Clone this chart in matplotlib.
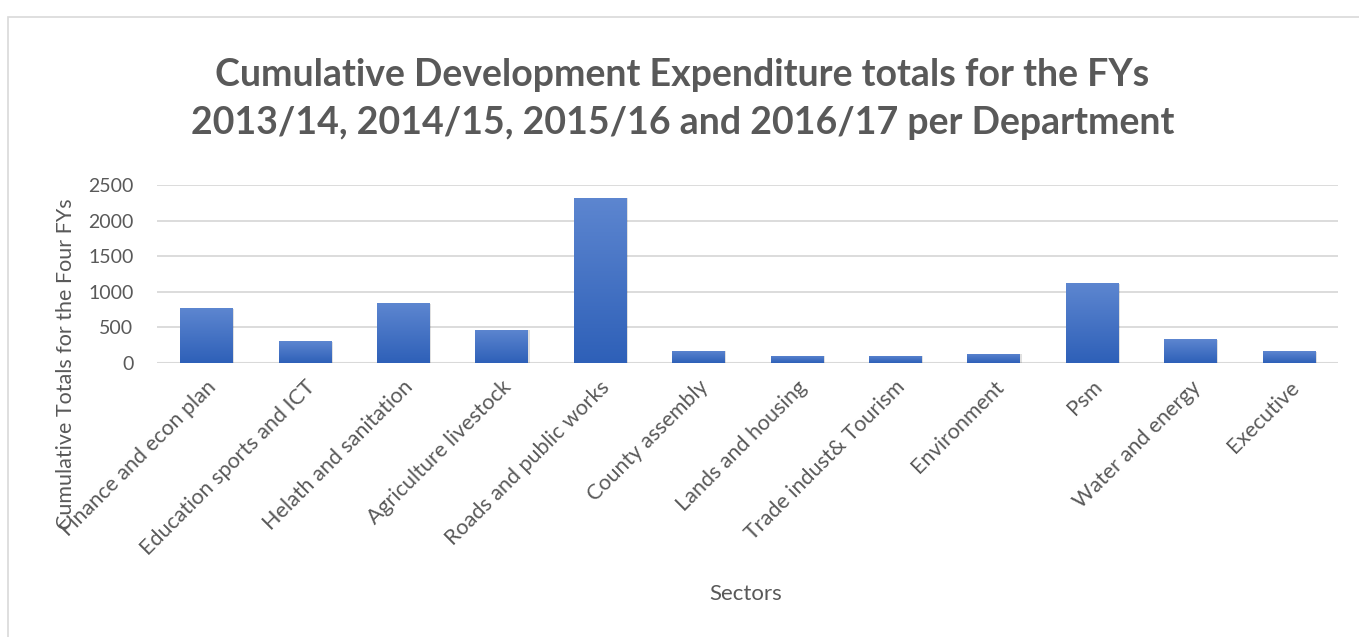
import numpy as np
import matplotlib
matplotlib.use("Agg")
import matplotlib.pyplot as plt
from matplotlib.patches import Rectangle

sectors = ["Finance and econ plan", "Education sports and ICT", "Helath and sanitation",
           "Agriculture livestock", "Roads and public works", "County assembly",
           "Lands and housing", "Trade indust& Tourism", "Environment", "Psm",
           "Water and energy", "Executive"]
totals = [770, 305, 836, 470, 2320, 175, 105, 105, 133, 1118, 332, 162]
yticks = [0, 500, 1000, 1500, 2000, 2500]

plt.rcParams['font.family'] = ['Lato', 'DejaVu Sans']
text_col = "#595959"

fig = plt.figure(figsize=(13.59, 6.37), dpi=100)
ax = fig.add_axes([157 / 1359, 1 - 363 / 637, (1338 - 157) / 1359, (363 - 185) / 637])

x = np.arange(len(sectors))
bars = ax.bar(x, totals, width=0.53, color="#4472C4", zorder=3)

# vertical gradient inside each bar, light at top
grad = np.linspace(0, 1, 256).reshape(-1, 1)
cmap = matplotlib.colors.LinearSegmentedColormap.from_list("g", ["#2E60B8", "#5D86D0"])
for b in bars:
    x0, y0 = b.get_x(), b.get_y()
    w, h = b.get_width(), b.get_height()
    # soft shadow
    ax.add_patch(Rectangle((x0 + 0.02, y0 - 8), w, h, color="#000000", alpha=0.12, zorder=2, lw=0))
    im = ax.imshow(grad, extent=[x0, x0 + w, y0, y0 + h], origin="lower",
                   cmap=cmap, aspect="auto", zorder=4)
    im.set_clip_path(b)

ax.set_xlim(-0.5, len(sectors) - 0.5)
ax.set_ylim(0, 2500)
ax.set_yticks(yticks)
ax.set_yticklabels([str(v) for v in yticks], fontsize=14, color=text_col)
ax.grid(axis="y", color="#D9D9D9", lw=1.3, zorder=0)
ax.set_axisbelow(True)
for s in ax.spines.values():
    s.set_visible(False)
ax.tick_params(axis="y", length=0, pad=17)
ax.set_xticks(x)
ax.set_xticklabels(sectors, rotation=45, ha="right", rotation_mode="anchor",
                   fontsize=15.5, color=text_col)
ax.tick_params(axis="x", length=0, pad=10)
ax.axhline(0, color="#D9D9D9", lw=1.5, zorder=1)

fig.text(0.502, 1 - 99 / 637, "Cumulative Development Expenditure totals for the FYs\n"
         "2013/14, 2014/15, 2015/16 and 2016/17 per Department",
         ha="center", va="center", fontsize=27, fontweight="bold", color=text_col,
         linespacing=1.5)
fig.text(66 / 1359, 1 - 364 / 637, "Cumulative Totals for the Four FYs", rotation=90,
         ha="center", va="center", fontsize=15.5, color=text_col)
fig.text(746 / 1359, 1 - 594 / 637, "Sectors", ha="center", va="center",
         fontsize=16, color=text_col)

fig.add_artist(Rectangle((8 / 1359, -0.01), 1.2, 1 - 17 / 637 + 0.01, transform=fig.transFigure,
                         fill=False, edgecolor="#D9D9D9", lw=1.2))

fig.savefig("out.png", dpi=100)
